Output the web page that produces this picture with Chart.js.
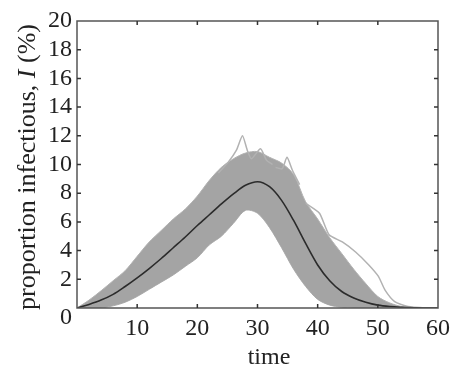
<!DOCTYPE html>
<html>
<head>
<meta charset="utf-8">
<script src="https://cdn.jsdelivr.net/npm/chart.js@4.4.1/dist/chart.umd.min.js"></script>
<style>
  body { margin: 0; background: #fff; }
  #chart { display: block; }
</style>
</head>
<body>
<canvas id="chart" width="456" height="372"></canvas>
<script>
// time grid and curves
const timeGrid = [0, 2, 4, 6, 8, 10, 12, 14, 16, 18, 20, 22, 24, 26, 28, 30, 32, 34, 36, 38, 40, 42, 44, 46, 48, 50, 52, 54, 56, 58, 60];
const meanI  = [0, 0.25, 0.55, 0.95, 1.5, 2.1, 2.75, 3.45, 4.2, 4.95, 5.75, 6.5, 7.25, 7.95, 8.55, 8.8, 8.45, 7.5, 6.1, 4.5, 3.0, 1.9, 1.15, 0.7, 0.4, 0.2, 0.1, 0.05, 0.02, 0, 0];
const upperI = [0, 0.55, 1.2, 1.9, 2.6, 3.6, 4.6, 5.4, 6.2, 6.9, 7.8, 8.9, 9.8, 10.4, 10.8, 10.9, 10.5, 10.1, 9.3, 7.4, 6.2, 4.9, 3.8, 2.7, 1.7, 0.8, 0.35, 0.1, 0, 0, 0];
const lowerI = [0, 0, 0, 0.15, 0.4, 0.8, 1.3, 1.8, 2.3, 2.9, 3.5, 4.4, 5.0, 5.9, 6.8, 6.6, 5.6, 4.2, 2.7, 1.5, 0.6, 0.2, 0.05, 0, 0, 0, 0, 0, 0, 0, 0];

// single runs that stick out of the band
const spikeT = [23.5, 25.2, 26.5, 27.5, 28.3, 29.0, 30.5, 31.5, 32.5];
const spikeI = [9.4, 10.2, 11.0, 12.0, 11.0, 10.4, 11.1, 10.3, 10.0];
const bumpT = [33, 34.1, 34.9, 35.8, 37];
const bumpI = [9.8, 9.7, 10.5, 9.6, 8.6];
const tailT = [38, 40.3, 41.9, 44.1, 46.3, 48.5, 50.1, 51.2, 52.8, 55, 58, 60];
const tailI = [7.3, 6.6, 5.1, 4.6, 3.9, 3.0, 2.2, 1.25, 0.45, 0.1, 0, 0];

const xTicks = [10, 20, 30, 40, 50, 60];
const yTicks = [2, 4, 6, 8, 10, 12, 14, 16, 18, 20];

function pts(xs, ys) {
    return xs.map((t, i) => ({ x: t, y: ys[i] }));
}

const FONT = '"Liberation Serif", "Times New Roman", serif';
const bandGrey = '#a4a4a4';
const edgeGrey = '#b2b2b2';

const frame = {
    id: 'frame',
    afterDraw(chart) {
        const ctx = chart.ctx;
        const a = chart.chartArea;
        const x = chart.scales.x;
        const y = chart.scales.y;
        ctx.save();
        ctx.strokeStyle = '#555';
        ctx.lineWidth = 1.5;
        ctx.strokeRect(a.left, a.top, a.right - a.left, a.bottom - a.top);

        // inward ticks on all four sides
        ctx.strokeStyle = '#333';
        ctx.beginPath();
        xTicks.slice(0, -1).forEach(v => {
            const px = x.getPixelForValue(v);
            ctx.moveTo(px, a.bottom); ctx.lineTo(px, a.bottom - 4);
            ctx.moveTo(px, a.top); ctx.lineTo(px, a.top + 4);
        });
        yTicks.slice(0, -1).forEach(v => {
            const py = y.getPixelForValue(v);
            ctx.moveTo(a.left, py); ctx.lineTo(a.left + 4, py);
            ctx.moveTo(a.right, py); ctx.lineTo(a.right - 4, py);
        });
        ctx.stroke();

        ctx.fillStyle = '#222';
        // corner zero, set a little below the axis
        ctx.font = '24px ' + FONT;
        ctx.textAlign = 'right';
        ctx.textBaseline = 'middle';
        ctx.fillText('0', a.left - 5, y.getPixelForValue(0) + 10);

        // x title
        ctx.textAlign = 'center';
        ctx.textBaseline = 'alphabetic';
        ctx.fillText('time', 269, 364);

        // y title with italic I
        const parts = [
            ['proportion infectious, ', '26px ' + FONT],
            ['I', 'italic 26px ' + FONT],
            [' (%)', '26px ' + FONT]
        ];
        let total = 0;
        parts.forEach(p => { ctx.font = p[1]; total += ctx.measureText(p[0]).width; });
        ctx.translate(35, 167);
        ctx.rotate(-Math.PI / 2);
        ctx.textAlign = 'left';
        let pos = -total / 2;
        parts.forEach(p => {
            ctx.font = p[1];
            ctx.fillText(p[0], pos, 0);
            pos += ctx.measureText(p[0]).width;
        });
        ctx.restore();
    }
};

new Chart(document.getElementById('chart'), {
    type: 'line',
    data: {
        datasets: [
            {
                data: pts(timeGrid, meanI),
                borderColor: '#2b2b2b',
                borderWidth: 1.6,
                fill: false,
                pointRadius: 0,
                cubicInterpolationMode: 'monotone',
                order: 0
            },
            {
                data: pts(spikeT, spikeI),
                borderColor: edgeGrey,
                borderWidth: 1.5,
                fill: false,
                pointRadius: 0,
                tension: 0.2,
                order: 1
            },
            {
                data: pts(bumpT, bumpI),
                borderColor: edgeGrey,
                borderWidth: 1.5,
                fill: false,
                pointRadius: 0,
                tension: 0.2,
                order: 1
            },
            {
                data: pts(tailT, tailI),
                borderColor: edgeGrey,
                borderWidth: 1.5,
                fill: false,
                pointRadius: 0,
                tension: 0.2,
                order: 1
            },
            {
                data: pts(timeGrid, upperI),
                borderColor: edgeGrey,
                borderWidth: 1,
                backgroundColor: bandGrey,
                fill: '+1',
                pointRadius: 0,
                tension: 0.3,
                order: 2
            },
            {
                data: pts(timeGrid, lowerI),
                borderColor: edgeGrey,
                borderWidth: 1,
                fill: false,
                pointRadius: 0,
                tension: 0.3,
                order: 2
            }
        ]
    },
    options: {
        responsive: false,
        animation: false,
        layout: { padding: { top: 21, right: 13, left: 0, bottom: 0 } },
        plugins: {
            legend: { display: false },
            tooltip: { enabled: false }
        },
        scales: {
            x: {
                type: 'linear',
                min: 0,
                max: 60,
                afterFit: s => { s.height = 64; },
                afterBuildTicks: s => { s.ticks = xTicks.map(v => ({ value: v })); },
                grid: { display: false, drawTicks: false },
                border: { display: false },
                ticks: { color: '#222', padding: 6, font: { family: FONT, size: 24 } }
            },
            y: {
                min: 0,
                max: 20,
                afterFit: s => { s.width = 77; },
                afterBuildTicks: s => { s.ticks = yTicks.map(v => ({ value: v })); },
                grid: { display: false, drawTicks: false },
                border: { display: false },
                ticks: { color: '#222', padding: 5, font: { family: FONT, size: 24 } }
            }
        }
    },
    plugins: [frame]
});
</script>
</body>
</html>
